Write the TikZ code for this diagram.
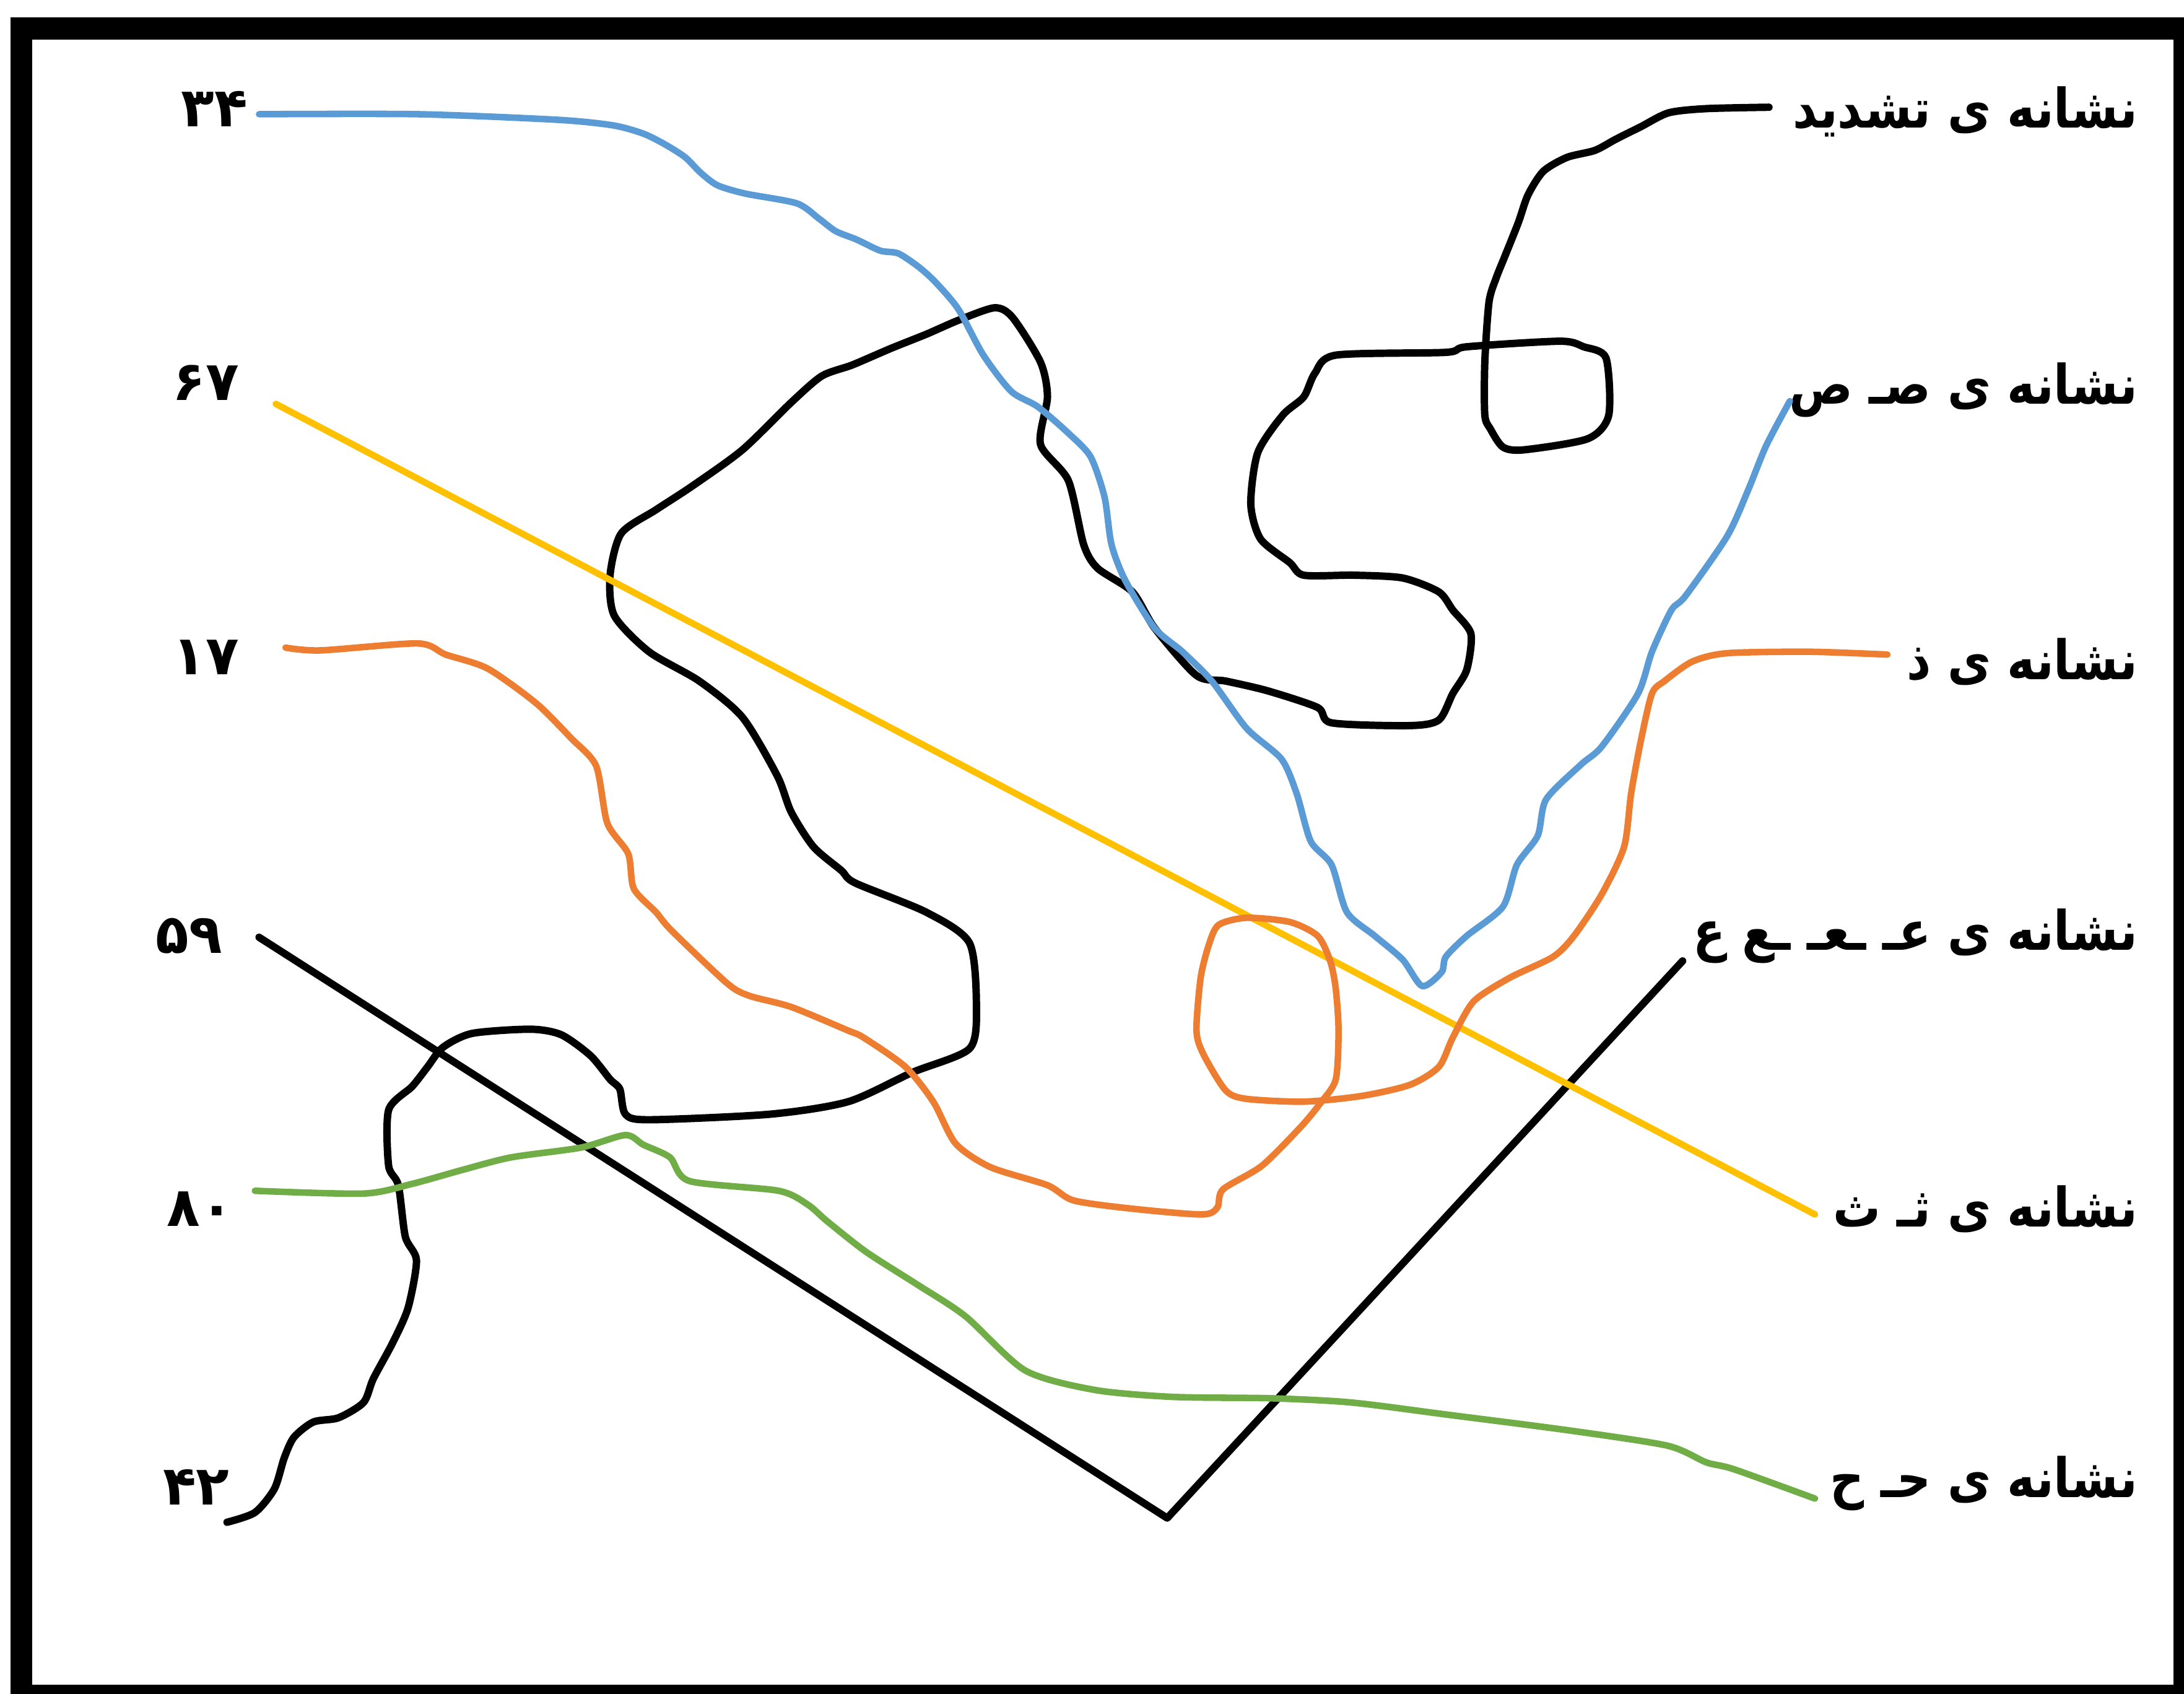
\documentclass[tikz,border=0pt]{standalone}
\usepackage{fontspec}
\newfontfamily\arabicfont[Script=Arabic]{DejaVu Sans}
\newfontfamily\arabiclabel[Script=Arabic, FakeStretch=0.87]{DejaVu Sans}
\TeXXeTstate=1
\definecolor{cblue}{HTML}{5B9BD5}
\definecolor{corange}{HTML}{ED7D31}
\definecolor{cyellow}{HTML}{FFC000}
\definecolor{cgreen}{HTML}{70AD47}
\tikzset{
  lbl/.style={inner sep=0pt, anchor=east, font=\arabiclabel\bfseries\fontsize{25}{28}\selectfont},
  num/.style={inner sep=0pt, anchor=east, font=\arabicfont\bfseries\fontsize{25}{28}\selectfont},
  inkline/.style={line width=3.4pt, line cap=round, line join=round},
  colline/.style={line width=3pt, line cap=round, line join=round},
}
\begin{document}
\begin{tikzpicture}[x=0.022494cm, y=-0.022494cm]
\useasboundingbox (0,0) rectangle (1568,1216.3);
% frame
\fill[black] (7.4,12.3) rectangle (1568,1216.3);
\fill[white] (23,28.3) rectangle (1560.4,1209.7);

% left numbers
\node[num] (n34) at (178,78) {۳۴};
\node[num] (n67) at (172,275) {۶۷};
\node[num] (n17) at (172,472) {۱۷};
\node[num] (n59) at (160,672) {۵۹};
\node[num] (n80) at (168,868) {۸۰};
\node[num] (n42) at (165,1068) {۴۲};

% right labels
\node[lbl] (ltashdid) at (1535,80) {\beginR نشانه ی تشدید\endR};
\node[lbl] (lsad) at (1535,280) {\beginR نشانه ی صـ ص\endR};
\node[lbl] (lzal) at (1535,475) {\beginR نشانه ی ذ\endR};
\node[lbl] (lein) at (1535,672) {\beginR نشانه ی عـ ـعـ ـع ع\endR};
\node[lbl] (lse) at (1535,868) {\beginR نشانه ی ثـ ث\endR};
\node[lbl] (lhe) at (1535,1065) {\beginR نشانه ی حـ ح\endR};

% black curve 42 -> tashdid
\draw[inkline] plot[smooth, tension=0.45] coordinates {
(163,1093) (183,1086) (197,1069) (204,1047) (211,1032) (225,1021) (243,1018) (261,1007)
(268,990) (282,964) (293,939) (299,905) (291,888) (286,851) (279,837) (279,797) (296,780)
(307,766) (318,752) (339,742) (381,739) (403,743) (424,758) (438,775) (445,782) (449,800)
(466,804) (553,800) (609,791) (655,770) (696,753) (701,723) (696,677) (665,655) (614,634)
(604,625) (584,608) (568,583) (558,557) (533,515) (502,489) (466,468) (441,442) (438,413)
(446,383) (471,366) (497,349) (533,323) (568,289) (590,270) (612,262) (640,250) (665,240)
(688,230) (714,221) (727,228) (747,260) (752,285) (747,319) (767,345) (778,391) (788,408)
(813,425) (829,451) (859,485) (880,489) (910,496) (946,508) (956,519) (1012,521) (1033,517)
(1043,498) (1053,481) (1056,455) (1043,438) (1033,425) (1007,415) (972,413) (936,413)
(926,404) (905,387) (898,362) (903,325) (921,298) (936,285) (944,268) (959,255) (1038,253)
(1053,249) (1120,245) (1137,249) (1153,257) (1155,298) (1140,315) (1094,323) (1079,321)
(1070,308) (1066,298) (1066,260) (1069,217) (1074,200) (1080,185) (1090,160) (1097,140)
(1108,123) (1125,113) (1145,108) (1160,100) (1178,91) (1198,81) (1225,78) (1270,77)};

% black V 59 -> ein
\coordinate (vbot) at (838,1090);
\draw[inkline] (186,673) -- (vbot) -- (1208,690);

% yellow 67 -> se
\draw[colline, cyellow] (198,290) -- (1303,872);

% orange 17 -> zal
\draw[colline, corange] plot[smooth, tension=0.45] coordinates {
(205,465) (230,467) (300,462) (320,470) (350,480) (385,505) (410,530) (428,550) (436,591)
(451,613) (455,638) (471,655) (482,668) (522,706) (538,715) (568,723) (609,740) (620,745)
(650,766) (670,791) (686,821) (711,838) (752,851) (771,862) (814,868) (863,872) (874,867)
(878,854) (906,837) (934,809) (948,792) (959,775) (961,740) (959,710) (955,690) (946,672)
(926,662) (895,659) (875,664) (868,678) (862,702) (859,740) (864,757) (880,783) (895,789)
(936,791) (977,787) (1012,779) (1033,766) (1043,745) (1058,719) (1084,702) (1115,687)
(1130,672) (1150,642) (1166,608) (1171,570) (1178,532) (1186,498) (1195,489) (1215,475)
(1240,469) (1300,468) (1355,470)};

% blue 34 -> sad
\draw[colline, cblue] plot[smooth, tension=0.45] coordinates {
(186,82) (300,82) (400,86) (440,90) (462,96) (478,104) (492,113) (503,124) (515,133)
(535,139) (572,146) (588,157) (600,166) (615,172) (632,180) (645,182) (660,192) (672,203)
(688,222) (706,255) (726,281) (745,292) (767,311) (783,328) (793,357) (798,391) (808,417)
(829,451) (849,468) (870,489) (895,523) (920,545) (931,570) (941,604) (956,621) (967,655)
(987,672) (1007,689) (1021,708) (1035,698) (1038,687) (1053,672) (1079,651) (1089,621)
(1104,600) (1110,574) (1135,549) (1150,536) (1176,498) (1186,468) (1200,438) (1210,428)
(1240,385) (1255,352) (1268,320) (1285,288)};

% green 80 -> he
\draw[colline, cgreen] plot[smooth, tension=0.45] coordinates {
(183,855) (261,857) (296,850) (332,840) (367,831) (417,824) (449,815) (462,822) (481,831)
(495,848) (559,855) (580,865) (594,877) (622,899) (658,922) (693,945) (736,984) (786,998)
(842,1003) (913,1004) (970,1007) (1041,1016) (1126,1027) (1197,1038) (1225,1050)
(1245,1055) (1303,1076)};
\end{tikzpicture}
\end{document}
